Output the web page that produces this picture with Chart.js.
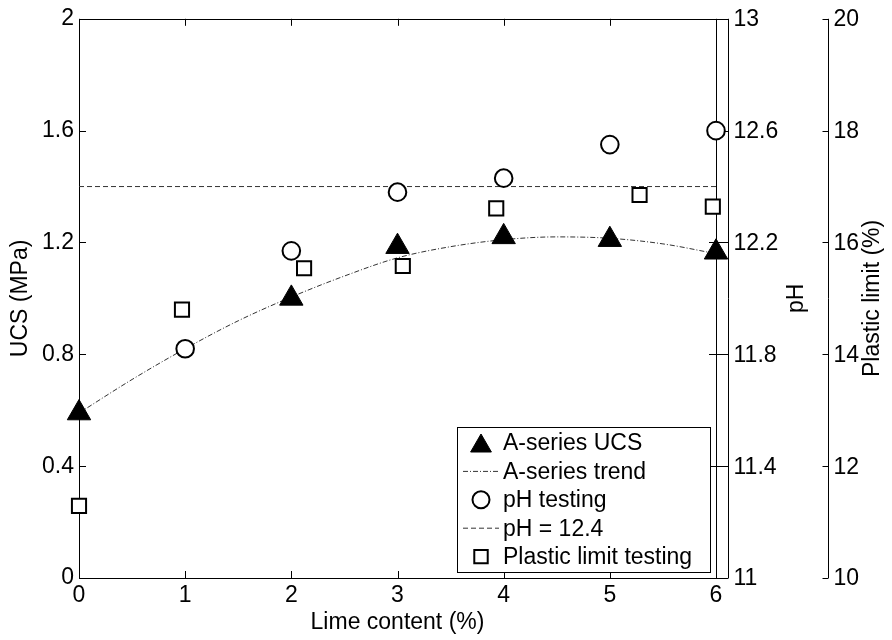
<!DOCTYPE html>
<html>
<head>
<meta charset="utf-8">
<script src="https://cdn.jsdelivr.net/npm/chart.js@4.4.0/dist/chart.umd.min.js"></script>
<style>
  html, body { margin: 0; padding: 0; background: #fff; }
</style>
</head>
<body>
<canvas id="limeChart" width="892" height="640"></canvas>
<script>
// values
const ucsLime = [0, 2, 3, 4, 5, 6];
const ucsValues = [0.59, 1.0, 1.185, 1.22, 1.21, 1.165];

const trendLime = [0, 0.5, 1, 1.5, 2, 2.5, 3, 3.5, 4, 4.5, 5, 5.5, 6];
const trendValues = [0.59, 0.71, 0.82, 0.92, 1.005, 1.08, 1.145, 1.185, 1.21, 1.22, 1.215, 1.195, 1.16];

const phLime = [1, 2, 3, 4, 5, 6];
const phValues = [11.82, 12.17, 12.38, 12.43, 12.55, 12.6];
const phLimitLime = [0, 6];
const phLimitValues = [12.4, 12.4];

const plLime = [0, 0.97, 2.12, 3.05, 3.93, 5.28, 5.97];
const plValues = [11.29, 14.8, 15.54, 15.58, 16.61, 16.85, 16.64];

const limeTicks = [0, 1, 2, 3, 4, 5, 6];
const ucsTicks = [0, 0.4, 0.8, 1.2, 1.6, 2];
const phTicks = [11, 11.4, 11.8, 12.2, 12.6, 13];
const plTicks = [10, 12, 14, 16, 18, 20];

const FONT = "'Liberation Sans', Arial, Helvetica, sans-serif";
const FS = 23;

const pts = (xs, ys) => xs.map((x, i) => ({ x: x, y: ys[i] }));
const fmt = (v) => String(Number(v.toFixed(2)));

// box, inward ticks, the two extra right axes (under the markers) and the legend (on top)
const figurePlugin = {
  id: "figure",
  beforeDatasetsDraw(chart) {
    const ctx = chart.ctx;
    const a = chart.chartArea;
    const sx = chart.scales.x, sy = chart.scales.y;
    const sph = chart.scales.yPH, spl = chart.scales.yPL;
    ctx.save();
    ctx.strokeStyle = "#000";
    ctx.lineWidth = 1;

    // plot box
    ctx.strokeRect(Math.round(a.left) + 0.5, Math.round(a.top) + 0.5,
      Math.round(a.right - a.left), Math.round(a.bottom - a.top));

    ctx.beginPath();
    limeTicks.forEach(v => {
      const px = Math.round(sx.getPixelForValue(v)) + 0.5;
      ctx.moveTo(px, a.bottom); ctx.lineTo(px, a.bottom - 7);
      ctx.moveTo(px, a.top); ctx.lineTo(px, a.top + 7);
    });
    ucsTicks.forEach(v => {
      const py = Math.round(sy.getPixelForValue(v)) + 0.5;
      ctx.moveTo(a.left, py); ctx.lineTo(a.left + 7, py);
      ctx.moveTo(a.right, py); ctx.lineTo(a.right - 7, py);
    });
    ctx.stroke();

    ctx.fillStyle = "#000";
    ctx.font = FS + "px " + FONT;
    ctx.textBaseline = "middle";
    ctx.textAlign = "left";

    // pH axis
    const phX = Math.round(a.right) + 12.5;
    ctx.beginPath();
    ctx.moveTo(phX, sph.getPixelForValue(11)); ctx.lineTo(phX, sph.getPixelForValue(13));
    phTicks.forEach(v => {
      const py = Math.round(sph.getPixelForValue(v)) + 0.5;
      ctx.moveTo(phX, py); ctx.lineTo(a.right, py);
    });
    ctx.stroke();
    phTicks.forEach(v => {
      ctx.fillText(fmt(v), phX + 5, sph.getPixelForValue(v) + 1);
    });

    // plastic limit axis
    const plX = Math.round(a.right) + 112.5;
    ctx.beginPath();
    ctx.moveTo(plX, spl.getPixelForValue(10)); ctx.lineTo(plX, spl.getPixelForValue(20));
    plTicks.forEach(v => {
      const py = Math.round(spl.getPixelForValue(v)) + 0.5;
      ctx.moveTo(plX, py); ctx.lineTo(plX - 6, py);
    });
    ctx.stroke();
    plTicks.forEach(v => {
      ctx.fillText(fmt(v), plX + 5, spl.getPixelForValue(v) + 1);
    });

    // right axis titles
    const midY = (a.top + a.bottom) / 2;
    ctx.textAlign = "center";
    [["pH", a.right + 81], ["Plastic limit (%)", a.right + 157]].forEach(([t, x]) => {
      ctx.save();
      ctx.translate(x, midY);
      ctx.rotate(-Math.PI / 2);
      ctx.fillText(t, 0, 0);
      ctx.restore();
    });
    ctx.restore();
  },
  afterDatasetsDraw(chart) {
    const ctx = chart.ctx;
    ctx.save();
    ctx.strokeStyle = "#000";
    ctx.lineWidth = 1;
    ctx.font = FS + "px " + FONT;
    ctx.textBaseline = "middle";

    // legend
    const lx = 457, ly = 427, lw = 253, lh = 145;
    ctx.fillStyle = "#fff";
    ctx.fillRect(lx, ly, lw, lh);
    ctx.strokeRect(lx + 0.5, ly + 0.5, lw, lh);
    const rowH = 28.4;
    chart.data.datasets.forEach((ds, i) => {
      const cy = ly + 16 + i * rowH;
      if (ds.showLine) {
        ctx.save();
        ctx.strokeStyle = ds.borderColor;
        ctx.lineWidth = ds.borderWidth;
        ctx.setLineDash(ds.borderDash || []);
        ctx.beginPath();
        ctx.moveTo(463, cy); ctx.lineTo(499, cy);
        ctx.stroke();
        ctx.restore();
      } else {
        ctx.save();
        ctx.fillStyle = ds.backgroundColor;
        ctx.strokeStyle = ds.borderColor;
        ctx.lineWidth = ds.borderWidth;
        const r = ds.legendRadius;
        const oy = ds.pointStyle === "triangle" ? r / 4 : 0;
        Chart.helpers.drawPoint(ctx, { pointStyle: ds.pointStyle, radius: r, borderWidth: ds.borderWidth, rotation: 0 }, 481, cy + oy);
        ctx.restore();
      }
      ctx.fillStyle = "#000";
      ctx.textAlign = "left";
      ctx.fillText(ds.label, 503, cy + 1);
    });
    ctx.restore();
  }
};

new Chart(document.getElementById("limeChart"), {
  type: "scatter",
  data: {
    datasets: [
      {
        label: "A-series UCS",
        data: pts(ucsLime, ucsValues),
        yAxisID: "y",
        pointStyle: "triangle",
        pointRadius: 13.5,
        legendRadius: 12,
        backgroundColor: "#000",
        borderColor: "#000",
        borderWidth: 1,
        clip: false,
        order: 1,
      },
      {
        label: "A-series trend",
        data: pts(trendLime, trendValues),
        yAxisID: "y",
        showLine: true,
        pointRadius: 0,
        borderColor: "#333",
        borderWidth: 1,
        borderDash: [5, 2, 1, 2],
        cubicInterpolationMode: "monotone",
        order: 4,
      },
      {
        label: "pH testing",
        data: pts(phLime, phValues),
        yAxisID: "yPH",
        pointStyle: "circle",
        pointRadius: 8.8,
        legendRadius: 8.5,
        backgroundColor: "#fff",
        borderColor: "#000",
        borderWidth: 2,
        clip: false,
        order: 2,
      },
      {
        label: "pH = 12.4",
        data: pts(phLimitLime, phLimitValues),
        yAxisID: "yPH",
        showLine: true,
        pointRadius: 0,
        borderColor: "#333",
        borderWidth: 1,
        borderDash: [5, 3],
        order: 5,
      },
      {
        label: "Plastic limit testing",
        data: pts(plLime, plValues),
        yAxisID: "yPL",
        pointStyle: "rect",
        pointRadius: 10,
        legendRadius: 9.5,
        backgroundColor: "#fff",
        borderColor: "#000",
        borderWidth: 2,
        clip: false,
        order: 3,
      },
    ],
  },
  options: {
    responsive: false,
    animation: false,
    devicePixelRatio: 1,
    layout: { padding: { left: 0, top: 18, right: 176, bottom: 0 } },
    plugins: {
      legend: { display: false },
      tooltip: { enabled: false },
    },
    scales: {
      x: {
        type: "linear",
        min: 0,
        max: 6,
        ticks: { stepSize: 1, color: "#000", font: { family: FONT, size: FS }, padding: 4, maxRotation: 0 },
        grid: { display: false, drawTicks: false },
        border: { display: false },
        title: { display: true, text: "Lime content (%)", color: "#000", font: { family: FONT, size: FS }, padding: { top: 0, bottom: 4 } },
        afterFit: (s) => { s.height = 62; },
      },
      y: {
        position: "left",
        min: 0,
        max: 2,
        ticks: { stepSize: 0.4, color: "#000", font: { family: FONT, size: FS }, padding: 5, callback: (v) => fmt(v) },
        grid: { display: false, drawTicks: false },
        border: { display: false },
        title: { display: true, text: "UCS (MPa)", color: "#000", font: { family: FONT, size: FS }, padding: { top: 7, bottom: 0 } },
        afterFit: (s) => { s.width = 79; },
      },
      yPH: { display: false, position: "right", min: 11, max: 13 },
      yPL: { display: false, position: "right", min: 10, max: 20 },
    },
  },
  plugins: [figurePlugin],
});
</script>
</body>
</html>
